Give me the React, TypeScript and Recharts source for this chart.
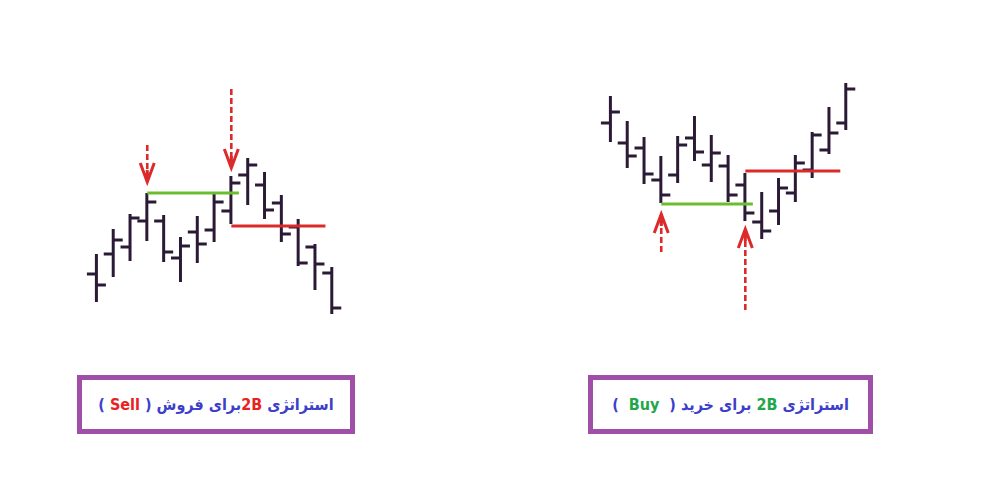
import { Bar, ComposedChart, ReferenceDot, ReferenceLine, XAxis, YAxis } from 'recharts'

const BAR_COLOR = '#2b1a36'
const GREEN = '#6cbd2e'
const RED = '#dc2a2a'
const FRAME = '#9f4fa8'
const TEXT_BLUE = '#3d3fca'
const TEXT_GREEN = '#23a64a'
const TEXT_RED = '#e82222'

// sell setup (left chart): one OHLC bar per session
const sellHigh = [76, 101, 116, 137, 115, 93, 114, 136, 154, 172, 158, 135, 111, 86, 63]
const sellLow = [28, 53, 69, 89, 68, 48, 67, 88, 106, 125, 111, 88, 64, 40, 16]
const sellOpen = [56, 76, 83, 109, 109, 72, 98, 100, 119, 155, 145, 127, 103, 83, 57]
const sellClose = [45, 90, 112, 128, 78, 84, 86, 128, 147, 165, 120, 96, 67, 66, 22]

// buy setup (right chart)
const buyHigh = [234, 209, 193, 174, 194, 214, 195, 175, 157, 138, 152, 175, 198, 223, 247]
const buyLow = [188, 162, 146, 127, 147, 169, 148, 128, 109, 91, 105, 128, 152, 176, 200]
const buyOpen = [207, 187, 182, 150, 155, 192, 165, 164, 145, 108, 119, 137, 160, 180, 207]
const buyClose = [218, 174, 156, 135, 185, 178, 177, 135, 117, 99, 142, 167, 195, 197, 241]

// levels: [price, from bar, to bar]
const sellGreen = [137, 3, 8.45]
const sellRed = [104, 8, 13.6]
const buyGreen = [126, 3, 8.45]
const buyRed = [159, 8, 13.65]

// arrows: bar, tail price, tip price
const sellArrows = [
  { bar: 3, from: 185, to: 148 },
  { bar: 8, from: 241, to: 162 },
]
const buyArrows = [
  { bar: 3, from: 78, to: 116 },
  { bar: 8, from: 20, to: 101 },
]

type Row = { i: number; high: number; low: number; open: number; close: number }

const toRows = (high: number[], low: number[], open: number[], close: number[]): Row[] =>
  high.map((h, i) => ({ i, high: h, low: low[i], open: open[i], close: close[i] }))

function OhlcShape(props: any) {
  const { x, y, width, height, payload } = props
  const cx = x + width / 2
  const top = Math.min(y, y + height)
  const h = Math.abs(height)
  const span = payload.high - payload.low
  const py = (v: number) => top + ((payload.high - v) / span) * h
  return (
    <g stroke={BAR_COLOR} strokeWidth={3}>
      <line x1={cx} x2={cx} y1={top} y2={top + h} />
      <line x1={cx - 9.5} x2={cx} y1={py(payload.open)} y2={py(payload.open)} />
      <line x1={cx} x2={cx + 9.5} y1={py(payload.close)} y2={py(payload.close)} />
    </g>
  )
}

function ArrowHead({ cx, cy, up }: any) {
  const s = up ? 1 : -1
  return (
    <path
      d={`M${cx - 7},${cy + s * 19} L${cx},${cy} L${cx + 7},${cy + s * 19} M${cx},${cy} L${cx},${cy + s * 12}`}
      stroke={RED}
      strokeWidth={3}
      fill="none"
    />
  )
}

interface ChartProps {
  rows: Row[]
  green: number[]
  red: number[]
  arrows: { bar: number; from: number; to: number }[]
  up: boolean
}

function SetupChart({ rows, green, red, arrows, up }: ChartProps) {
  return (
    <ComposedChart width={269} height={250} data={rows} margin={{ top: 0, right: 0, bottom: 0, left: 0 }}>
      <XAxis dataKey="i" type="number" domain={[-1, 15]} hide />
      <YAxis type="number" domain={[0, 250]} hide />
      <Bar
        dataKey={(d: Row) => [d.low, d.high]}
        barSize={10}
        shape={OhlcShape}
        isAnimationActive={false}
      />
      <ReferenceLine
        segment={[{ x: green[1], y: green[0] }, { x: green[2], y: green[0] }]}
        stroke={GREEN}
        strokeWidth={3}
      />
      <ReferenceLine
        segment={[{ x: red[1], y: red[0] }, { x: red[2], y: red[0] }]}
        stroke={RED}
        strokeWidth={3}
      />
      {arrows.map((a) => (
        <ReferenceLine
          key={`s${a.bar}`}
          segment={[{ x: a.bar, y: a.from }, { x: a.bar, y: a.to }]}
          stroke={RED}
          strokeWidth={2.6}
          strokeDasharray="6 3"
        />
      ))}
      {arrows.map((a) => (
        <ReferenceDot
          key={`h${a.bar}`}
          x={a.bar}
          y={a.to}
          r={0}
          shape={(p: any) => <ArrowHead cx={p.cx} cy={p.cy} up={up} />}
        />
      ))}
    </ComposedChart>
  )
}

const captionText = {
  fontFamily: '"DejaVu Sans Condensed", "DejaVu Sans", sans-serif',
  fontWeight: 700,
  fontSize: 16,
  color: TEXT_BLUE,
  whiteSpace: 'pre' as const,
}

const boxStyle = (left: number, width: number) => ({
  position: 'absolute' as const,
  left,
  top: 375,
  width,
  height: 59,
  border: `5px solid ${FRAME}`,
  boxSizing: 'border-box' as const,
  display: 'flex',
  alignItems: 'center',
  justifyContent: 'center',
  background: '#fff',
})

export default function App() {
  return (
    <div style={{ position: 'absolute', left: 0, top: 0, width: 1000, height: 500, background: '#fff', overflow: 'hidden' }}>
      <div style={{ position: 'absolute', left: 80, top: 80 }}>
        <SetupChart rows={toRows(sellHigh, sellLow, sellOpen, sellClose)} green={sellGreen} red={sellRed} arrows={sellArrows} up={false} />
      </div>
      <div style={{ position: 'absolute', left: 594, top: 80 }}>
        <SetupChart rows={toRows(buyHigh, buyLow, buyOpen, buyClose)} green={buyGreen} red={buyRed} arrows={buyArrows} up={true} />
      </div>
      <div style={boxStyle(77, 278)}>
        <div dir="rtl" style={captionText}>
          استراتژی <span style={{ color: TEXT_RED }}>2B</span>برای فروش ( <span style={{ color: TEXT_RED }}>Sell</span> )
        </div>
      </div>
      <div style={boxStyle(588, 285)}>
        <div dir="rtl" style={captionText}>
          استراتژی <span style={{ color: TEXT_GREEN }}>2B</span> برای خرید (  <span style={{ color: TEXT_GREEN }}>Buy</span>  )
        </div>
      </div>
    </div>
  )
}
